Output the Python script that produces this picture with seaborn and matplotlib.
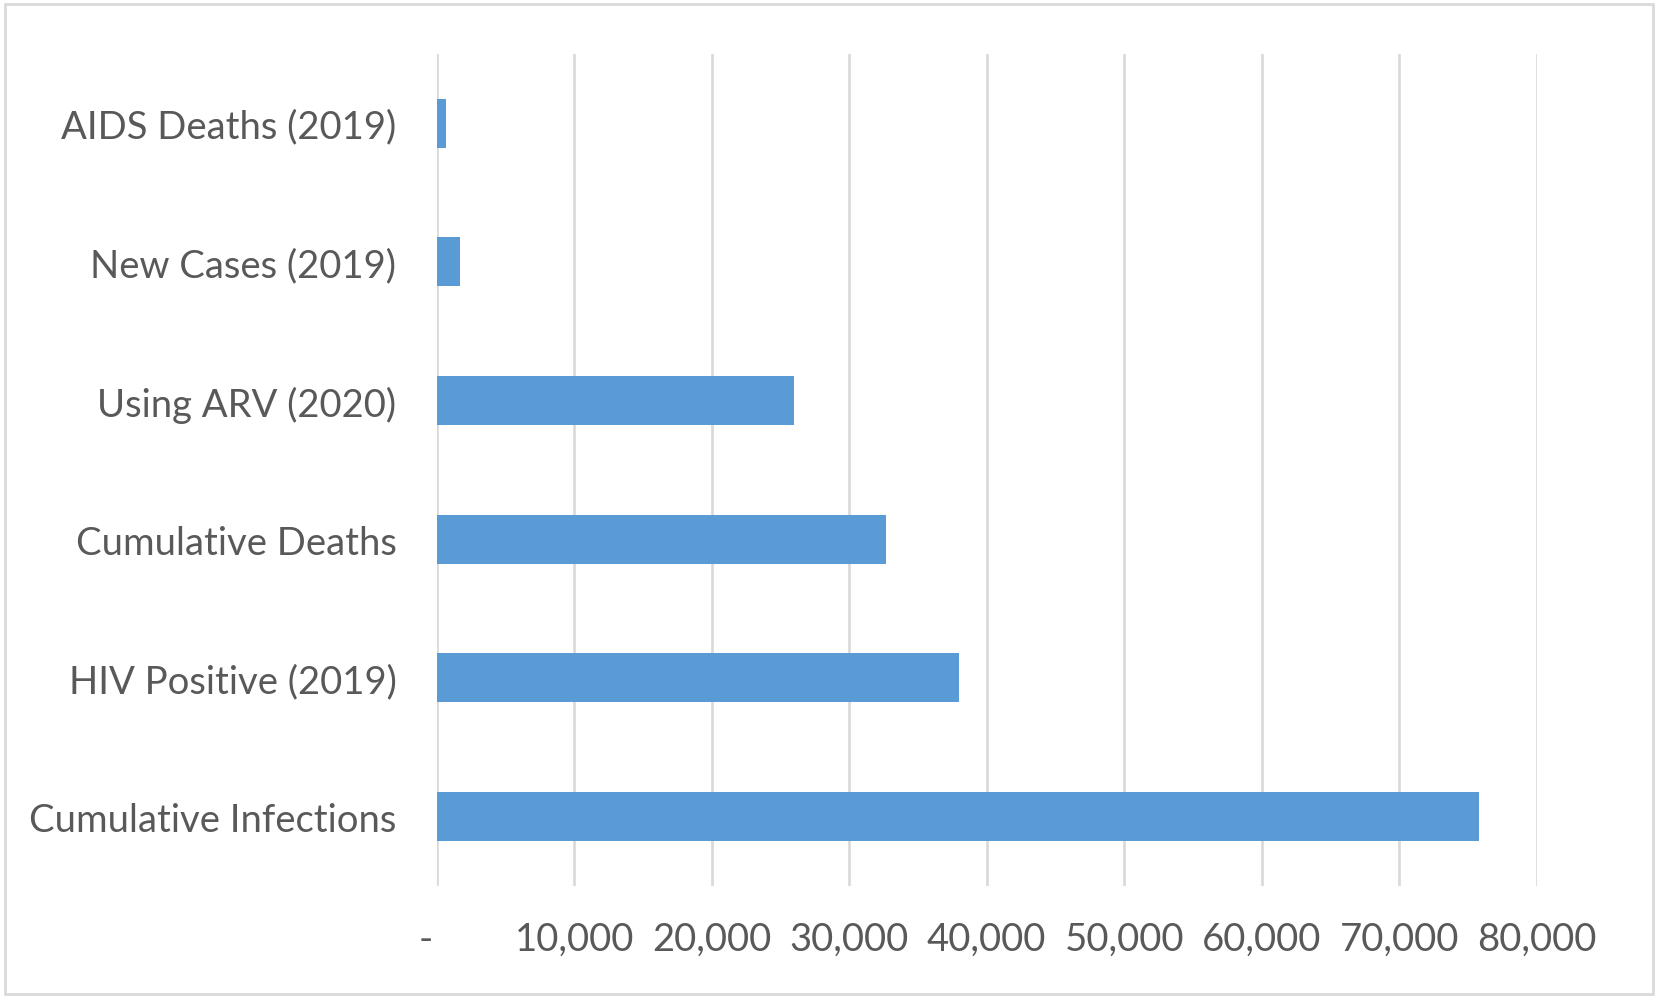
import matplotlib
matplotlib.use("Agg")
import matplotlib.pyplot as plt
import matplotlib.ticker as mticker
import matplotlib.transforms as mtrans
import seaborn as sns
import pandas as pd

# values
categories = [
    "AIDS Deaths (2019)",
    "New Cases (2019)",
    "Using ARV (2020)",
    "Cumulative Deaths",
    "HIV Positive (2019)",
    "Cumulative Infections",
]
counts = [700, 1700, 26000, 32700, 38000, 75800]
x_ticks = [0, 10000, 20000, 30000, 40000, 50000, 60000, 70000, 80000]

BAR_COLOR = "#5B9BD5"
GRID_COLOR = "#D9D9D9"
TEXT_COLOR = "#595959"

sns.set_theme(style="white")
plt.rcParams["font.family"] = ["Lato", "DejaVu Sans"]

df = pd.DataFrame({"Category": categories, "Count": counts})

fig = plt.figure(figsize=(16.63, 10.03), dpi=100)
ax = fig.add_axes([0.2626, 0.1157, 0.924 - 0.2626, 0.9452 - 0.1157])

sns.barplot(data=df, x="Count", y="Category", order=categories,
            color=BAR_COLOR, width=0.353, saturation=1, linewidth=0, ax=ax)

ax.set_xlim(0, 80000)
ax.set_xticks(x_ticks)
ax.xaxis.set_major_formatter(
    mticker.FuncFormatter(lambda v, p: "-" if v == 0 else f"{int(v):,}"))
ax.grid(axis="x", color=GRID_COLOR, linewidth=1.9)
ax.grid(axis="y", visible=False)
ax.set_axisbelow(True)
for s in ax.spines.values():
    s.set_visible(False)

ax.set_xlabel("")
ax.set_ylabel("")
ax.tick_params(axis="x", length=0, pad=25, labelsize=27.5, labelcolor=TEXT_COLOR)
ax.tick_params(axis="y", length=0, pad=29, labelsize=27.5, labelcolor=TEXT_COLOR)

# the "-" for zero sits a little left of the axis, like the original
fig.canvas.draw()
first = ax.get_xticklabels()[0]
first.set_transform(first.get_transform() +
                    mtrans.ScaledTranslation(-8 / 72, 0, fig.dpi_scale_trans))

# chart area border
fig.patches.append(plt.Rectangle((5 / 1663, 1 - 995 / 1003), 1648 / 1663, 990 / 1003,
                                 transform=fig.transFigure, fill=False,
                                 edgecolor=GRID_COLOR, linewidth=2))

fig.savefig("out.png", dpi=100)
